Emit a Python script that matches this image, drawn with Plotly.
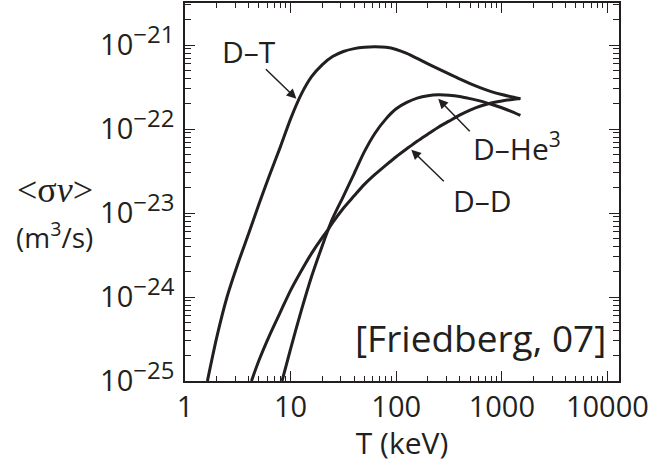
import plotly.graph_objects as go
import math

# ---- data (T in keV, <sigma v> in m^3/s) ----
T_DT = [1.63, 2.0, 2.5, 3.16, 4.0, 5.0, 6.3, 8.0, 10, 12.6, 15.8, 20, 25, 31.6, 40, 50, 63, 80,
        100, 126, 158, 200, 251, 316, 398, 501, 631, 794, 1000, 1259, 1500]
sv_DT = [1.0e-25, 3.33e-25, 1.0e-24, 2.47e-24, 5.65e-24, 1.26e-23, 2.80e-23, 6.12e-23, 1.32e-22,
         2.58e-22, 4.19e-22, 5.85e-22, 7.28e-22, 8.36e-22, 9.05e-22, 9.40e-22, 9.50e-22, 9.38e-22,
         8.85e-22, 7.94e-22, 6.92e-22, 5.96e-22, 5.19e-22, 4.52e-22, 3.94e-22, 3.47e-22, 3.09e-22,
         2.79e-22, 2.57e-22, 2.40e-22, 2.29e-22]

T_DHe3 = [8.3, 10, 12.6, 15.8, 20, 22.3, 25, 31.6, 40, 50, 63, 80, 100, 126, 158, 200, 251, 316,
          398, 501, 631, 794, 1000, 1259, 1500]
sv_DHe3 = [1.0e-25, 2.42e-25, 6.82e-25, 1.75e-24, 4.11e-24, 5.98e-24, 8.61e-24, 1.58e-23, 2.95e-23,
           5.37e-23, 8.91e-23, 1.32e-22, 1.74e-22, 2.07e-22, 2.33e-22, 2.49e-22, 2.55e-22, 2.52e-22,
           2.44e-22, 2.30e-22, 2.15e-22, 1.97e-22, 1.79e-22, 1.60e-22, 1.45e-22]

T_DD = [4.26, 5.0, 6.3, 8.0, 10, 12.6, 15.8, 20, 22.3, 25, 31.6, 40, 50, 63, 80, 100, 126, 158,
        200, 251, 316, 398, 501, 631, 794, 1000, 1259, 1500]
sv_DD = [1.0e-25, 1.74e-25, 3.47e-25, 6.61e-25, 1.20e-24, 2.04e-24, 3.31e-24, 5.13e-24, 6.17e-24,
         7.67e-24, 1.14e-23, 1.60e-23, 2.19e-23, 2.88e-23, 3.72e-23, 4.68e-23, 5.82e-23, 7.16e-23,
         8.71e-23, 1.05e-22, 1.24e-22, 1.46e-22, 1.68e-22, 1.88e-22, 2.04e-22, 2.16e-22, 2.25e-22,
         2.30e-22]

x_ticks = [1, 10, 100, 1000, 10000]
x_ticktext = ["1", "10", "100", "1000", "10000"]
y_exps = [-25, -24, -23, -22, -21]
y_ticktext = ["10<sup><span style='font-size:24px'>\u2212%d</span></sup>" % abs(e) for e in y_exps]

INK = "#231f20"
FONT = "Open Sans"

fig = go.Figure()
for T, sv in [(T_DT, sv_DT), (T_DHe3, sv_DHe3), (T_DD, sv_DD)]:
    fig.add_trace(go.Scatter(x=T, y=sv, mode="lines",
                             line=dict(color=INK, width=3, shape="spline", smoothing=0.8),
                             showlegend=False, hoverinfo="skip"))

x_minor = [m * 10 ** d for d in range(0, 4) for m in range(2, 10)]
y_minor = [m * 10.0 ** e for e in range(-25, -21) for m in range(2, 10)] + \
          [m * 1e-21 for m in range(2, 4)]

axis_common = dict(showline=True, linecolor=INK, linewidth=1.5, mirror="allticks",
                   ticks="inside", ticklen=10, tickwidth=1.2, tickcolor=INK,
                   showgrid=False, zeroline=False, automargin=False,
                   ticklabeloverflow="allow")

fig.update_xaxes(type="log", range=[0, 4.11], tickmode="array", tickvals=x_ticks,
                 ticktext=x_ticktext, ticklabelstandoff=-1,
                 tickfont=dict(family=FONT, size=29, color=INK),
                 minor=dict(ticks="inside", ticklen=5, tickwidth=1, tickcolor=INK,
                            tickmode="array", tickvals=x_minor, showgrid=False),
                 title=dict(text="T (keV)", font=dict(family=FONT, size=30, color=INK), standoff=0),
                 **axis_common)
fig.update_yaxes(type="log", range=[-25, -20.5], tickmode="array",
                 tickvals=[10.0 ** e for e in y_exps], ticktext=y_ticktext, ticklabelstandoff=3,
                 tickfont=dict(family=FONT, size=29, color=INK),
                 minor=dict(ticks="inside", ticklen=6, tickwidth=1, tickcolor=INK,
                            tickmode="array", tickvals=y_minor, showgrid=False),
                 **axis_common)

L = math.log10
ann = []
# text labels
ann.append(dict(x=L(4.08), y=-21.083, xref="x", yref="y", text="D\u2013T", showarrow=False,
                font=dict(family=FONT, size=30, color=INK)))
ann.append(dict(x=L(1400), y=-22.21, xref="x", yref="y", text="D\u2013He<sup>3</sup>", showarrow=False,
                font=dict(family=FONT, size=30, color=INK)))
ann.append(dict(x=L(653), y=-22.85, xref="x", yref="y", text="D\u2013D", showarrow=False,
                font=dict(family=FONT, size=30, color=INK)))
ann.append(dict(x=L(10030), y=-24.48, xref="x", yref="y", text="[Friedberg, 07]", showarrow=False,
                xanchor="right", font=dict(family=FONT, size=37, color=INK)))
# arrows
for tip_T, tip_log, ax, ay in [(11.35, -21.641, -32, -31), (250, -21.641, 33, 34), (139, -22.247, 34, 33)]:
    ann.append(dict(x=L(tip_T), y=tip_log, xref="x", yref="y", ax=ax, ay=ay, axref="pixel", ayref="pixel",
                    text="", showarrow=True, arrowhead=2, arrowsize=1.3, arrowwidth=1.5, arrowcolor=INK))
# y axis title (two horizontal lines)
ann.append(dict(x=-0.30, y=0.506, xref="paper", yref="paper", xanchor="center", yanchor="middle",
                text="&lt;\u03c3<i>v</i>&gt;",
                showarrow=False, font=dict(family="Liberation Serif", size=36, color=INK)))
ann.append(dict(x=-0.30, y=0.384, xref="paper", yref="paper", xanchor="center", yanchor="middle",
                text="(m<sup>3</sup>/s)",
                showarrow=False, font=dict(family=FONT, size=28, color=INK)))

fig.update_layout(width=648, height=463, margin=dict(l=185, r=29, t=3, b=82),
                  paper_bgcolor="white", plot_bgcolor="white", annotations=ann)

fig.write_html("out.html", config={"displayModeBar": False},
               post_script="document.body.style.margin='0';")
